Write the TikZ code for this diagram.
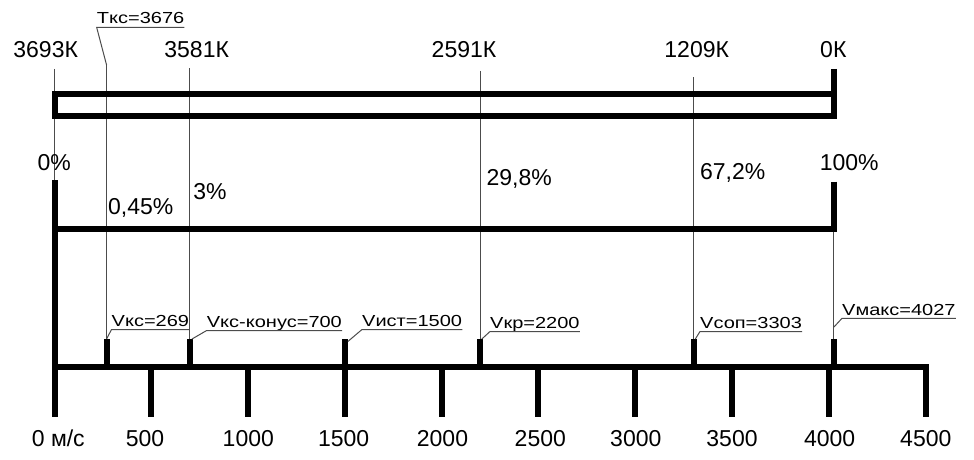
\documentclass[tikz,border=0pt]{standalone}
\usepackage{fontspec}
\setmainfont{Liberation Sans}
\tikzset{
  heavy/.style={line width=6pt, line cap=butt, line join=miter},
  hair/.style={line width=1pt, black!70},
  big/.style={font=\fontsize{23}{23}\selectfont, inner sep=0pt, anchor=base},
  small/.style={font=\fontsize{16}{16}\selectfont, inner sep=0pt, anchor=base west},
}
\newcommand{\widetxt}[1]{\scalebox{1.25}[1]{#1}}
\begin{document}
\begin{tikzpicture}[x=1pt,y=-1pt]
\useasboundingbox (0,0) rectangle (974,460);

% marker tops on the speed axis
\foreach \n/\v in {ks/269, kon/700, ist/1500, kr/2200, sop/3303, mx/4027}
  \coordinate (m\n) at ({54.5+\v*0.19356},339);
% tops of the thin verticals
\coordinate (t0) at (54.5,69);
\coordinate (b0) at (54.5,180);
\coordinate (tks) at ({54.5+269*0.19356},65);
\coordinate (tkon) at ({54.5+700*0.19356},68.5);
\coordinate (tkr) at ({54.5+2200*0.19356},71);
\coordinate (tsop) at ({54.5+3303*0.19356},77);
\coordinate (tmx) at ({54.5+4027*0.19356},229);
\coordinate (kmx) at ({54.5+4027*0.19356},327);

% thin lines
\draw[hair] (t0) -- (b0);
\draw[hair] (tks) -- (mks);
\draw[hair] (tkon) -- (mkon);
\draw[hair] (tkr) -- (mkr);
\draw[hair] (tsop) -- (msop);
\draw[hair] (tmx) -- (mmx);

% top bar (temperatures)
\draw[heavy] (833.5,69) -- (833.5,116) -- (54.5,116) -- (54.5,94) -- (833.5,94);
% middle bar (percentages)
\draw[heavy] (833.5,181.7) -- (833.5,229) -- (54.5,229);
% speed axis
\draw[heavy] (54.5,180) -- (54.5,417);
\draw[heavy] (54.5,367) -- (925.5,367) -- (925.5,417);
\foreach \v in {500,1000,...,4000}
  \draw[heavy] ({54.5+\v*0.19356},367) -- ({54.5+\v*0.19356},417);
\foreach \n in {ks,kon,ist,kr,sop,mx}
  \draw[heavy] (m\n) -- ++(0,28);

% temperature labels
\node[big] (k1) at (45.7,57.3) {3693К};
\node[big] (k2) at (196.7,57.3) {3581К};
\node[big] (k3) at (464,57.8) {2591К};
\node[big] (k4) at (696.7,57.3) {1209К};
\node[big] (k5) at (833.3,57.3) {0К};

% percentage labels
\node[big] (p1) at (54.2,170) {0\%};
\node[big] (p2) at (140.7,214.3) {0,45\%};
\node[big] (p3) at (210,199) {3\%};
\node[big] (p4) at (519.2,185) {29,8\%};
\node[big] (p5) at (732.7,179.3) {67,2\%};
\node[big] (p6) at (849.2,170) {100\%};

% axis labels
\node[big] (a0) at (58.3,446.7) {0 м/с};
\node[big] (a1) at (145,446.7) {500};
\node[big] (a2) at (248.3,446.7) {1000};
\node[big] (a3) at (343.7,446.7) {1500};
\node[big] (a4) at (442.5,446.7) {2000};
\node[big] (a5) at (540.3,446.7) {2500};
\node[big] (a6) at (635.8,446.7) {3000};
\node[big] (a7) at (732,446.7) {3500};
\node[big] (a8) at (829.7,446.7) {4000};
\node[big] (a9) at (925.8,446.7) {4500};

% underlined callouts
\node[small] (lT) at (96.7,24) {\widetxt{Tкс=3676}};
\draw[hair] (tks) -- ([yshift=-3.5pt]lT.base west) -- ([yshift=-3.5pt]lT.base east);

\node[small] (lks) at (111.5,326.5) {\widetxt{Vкс=269}};
\draw[hair] (mks) -- ([yshift=-3pt]lks.base west) -- ([yshift=-3pt]lks.base east);

\node[small] (lkon) at (206.7,327.5) {\widetxt{Vкс-конус=700}};
\draw[hair] ([xshift=2pt]mkon) -- ([yshift=-3pt]lkon.base west) -- ([yshift=-3pt]lkon.base east);

\node[small] (list) at (362,326.5) {\widetxt{Vист=1500}};
\draw[hair] ([xshift=3pt,yshift=-2.5pt]mist) -- ([yshift=-3pt]list.base west) -- ([yshift=-3pt]list.base east);

\node[small] (lkr) at (490,328.5) {\widetxt{Vкр=2200}};
\draw[hair] ([xshift=1.5pt]mkr) -- ([yshift=-3pt]lkr.base west) -- ([yshift=-3pt]lkr.base east);

\node[small] (lsop) at (700,328.5) {\widetxt{Vсоп=3303}};
\draw[hair] ([xshift=1.5pt]msop) -- ([yshift=-3pt]lsop.base west) -- ([yshift=-3pt]lsop.base east);

\node[small] (lmx) at (842,315.3) {\widetxt{Vмакс=4027}};
\draw[hair] (kmx) -- ([yshift=-3pt]lmx.base west) -- ([yshift=-3pt]lmx.base east);
\end{tikzpicture}
\end{document}
